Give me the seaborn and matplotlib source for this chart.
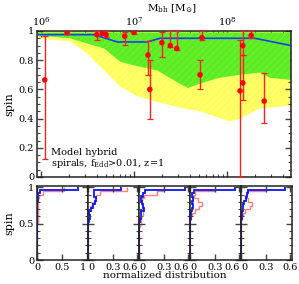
import numpy as np
import pandas as pd
import matplotlib
matplotlib.use("Agg")
import matplotlib.pyplot as plt
import seaborn as sns
from matplotlib.ticker import MultipleLocator, NullFormatter

plt.rcParams['font.family'] = ['DejaVu Serif']
plt.rcParams['mathtext.fontset'] = 'dejavuserif'
plt.rcParams['hatch.linewidth'] = 0.5

# model bands (log10 Mbh vs spin)
yellow_logm = [5.957, 6.31, 6.49, 6.68, 6.85, 7.03, 7.22, 7.49, 7.71, 8.03, 8.14, 8.35, 8.69]
yellow_low = [0.95, 0.93, 0.85, 0.73, 0.62, 0.555, 0.52, 0.475, 0.45, 0.38, 0.40, 0.47, 0.49]
green_logm = [5.957, 6.31, 6.68, 6.85, 7.03, 7.25, 7.49, 7.58, 7.71, 7.92, 8.14, 8.35, 8.46, 8.69]
green_low = [0.97, 0.95, 0.88, 0.79, 0.76, 0.73, 0.64, 0.61, 0.64, 0.68, 0.70, 0.715, 0.68, 0.665]
median_logm = [5.957, 6.57, 6.82, 7.14, 7.28, 8.30, 8.69]
median_spin = [0.975, 0.975, 0.925, 0.925, 0.95, 0.95, 0.90]

# observed spins
obs_logm = [6.04, 6.28, 6.60, 6.66, 6.70, 6.90, 7.00, 7.15, 7.17, 7.30, 7.39, 7.46, 7.71, 7.73, 8.14, 8.17, 8.17, 8.26, 8.40]
obs_spin = [0.665, 0.99, 0.975, 0.985, 0.975, 0.965, 0.99, 0.835, 0.60, 0.92, 0.90, 0.88, 0.70, 0.955, 0.59, 0.90, 0.645, 0.97, 0.52]
obs_lo = [0.12, 0.98, 0.935, 0.97, 0.96, 0.905, 0.98, 0.70, 0.40, 0.82, 0.89, 0.87, 0.60, 0.94, 0.0, 0.835, 0.53, 0.95, 0.37]
obs_hi = [0.965, 1.0, 1.0, 1.0, 1.0, 0.995, 1.0, 0.93, 0.80, 0.99, 1.0, 1.0, 0.80, 1.0, 0.94, 1.0, 0.835, 1.0, 0.71]

# spin distributions in 5 mass bins, listed from spin=1 downwards
# blue: top bin 0.97-1, then 0.05 wide; red: 0.05 wide bins
blue_hist = [
    [0.82, 0.06, 0.03, 0.015, 0.01, 0.01, 0.01, 0.01, 0.01, 0.01, 0.005, 0.005, 0.005, 0.005, 0.003, 0.003, 0.002, 0.002, 0.001, 0.001],
    [0.40, 0.07, 0.07, 0.10, 0.08, 0.057, 0.04, 0.016, 0.03, 0.01, 0.005, 0.003, 0.002, 0.001, 0, 0, 0, 0, 0, 0],
    [0.56, 0.073, 0.05, 0.03, 0.04, 0.05, 0.065, 0.03, 0.02, 0.01, 0.005, 0.003, 0.002, 0.001, 0, 0, 0, 0, 0, 0],
    [0.55, 0.05, 0.03, 0.04, 0.02, 0.04, 0.03, 0.012, 0.01, 0.005, 0.003, 0.002, 0.001, 0, 0, 0, 0, 0, 0, 0],
    [0.54, 0.09, 0.07, 0.06, 0.04, 0.02, 0.03, 0.015, 0.01, 0.005, 0.003, 0.002, 0.001, 0, 0, 0, 0, 0, 0, 0],
]
red_hist = [
    [0.55, 0.12, 0.04, 0.03, 0.03, 0.025, 0.02, 0.02, 0.02, 0.015, 0.01, 0.005, 0.003, 0.002, 0.001, 0, 0, 0, 0, 0],
    [0.48, 0.15, 0.10, 0.08, 0.05, 0.03, 0.015, 0.01, 0.005, 0.003, 0.002, 0.001, 0, 0, 0, 0, 0, 0, 0, 0],
    [0.30, 0.22, 0.06, 0.04, 0.04, 0.05, 0.05, 0.05, 0.03, 0.02, 0.01, 0.005, 0.002, 0, 0, 0, 0, 0, 0, 0],
    [0.30, 0.06, 0.05, 0.10, 0.14, 0.11, 0.06, 0.03, 0.01, 0.005, 0.002, 0, 0, 0, 0, 0, 0, 0, 0, 0],
    [0.30, 0.07, 0.05, 0.09, 0.13, 0.11, 0.05, 0.02, 0.01, 0.005, 0.002, 0, 0, 0, 0, 0, 0, 0, 0, 0],
]
red_edges = np.linspace(0, 1, 21)
blue_edges = np.r_[0, np.arange(0.07, 0.98, 0.05), 1.0]
panel_xmax = [1.03, 0.62, 0.62, 0.62, 0.62]
panel_xticks = [[0, 0.5, 1], [0, 0.3, 0.6], [0, 0.3, 0.6], [0, 0.3, 0.6], [0, 0.3, 0.6]]
panel_xlabels = [["0", "0.5", "1"], ["0", "0.3", "0.6"], ["0", "0.3", "0.6"], ["0", "0.3", "0.6"], ["0", "0.3", "0.6"]]

W, H = 299, 284
fig = plt.figure(figsize=(W / 100, H / 100), dpi=100)

def style_axis(ax):
    for s in ax.spines.values():
        s.set_linewidth(1.1)
        s.set_color("#222222")
    ax.tick_params(which="both", direction="in", top=True, right=True, labelsize=7, pad=2, color="#444444")
    ax.tick_params(which="major", length=4, width=1.0)
    ax.tick_params(which="minor", length=2, width=0.8)

ax = fig.add_axes([37 / W, 1 - 177 / H, 254 / W, 146 / H])
ax.set_xscale("log")
ax.fill_between(10 ** np.array(yellow_logm), yellow_low, 1.0, facecolor="#ffff5c", lw=0,
                hatch="/////", edgecolor="#ffff99", zorder=1)
ax.fill_between(10 ** np.array(green_logm), green_low, 0.99, facecolor="#5cec22", lw=0,
                hatch="/////", edgecolor="#7cf248", zorder=2)
sns.lineplot(x=10 ** np.array(median_logm), y=median_spin, color="#1f3cf0", lw=1.2, ax=ax, zorder=3)
obs = pd.DataFrame({"m": 10 ** np.array(obs_logm), "spin": obs_spin, "lo": obs_lo, "hi": obs_hi})
ax.errorbar(obs["m"], obs["spin"], yerr=[obs["spin"] - obs["lo"], obs["hi"] - obs["spin"]],
            fmt="none", ecolor="#ff2020", elinewidth=1.0, capsize=2, capthick=0.9, zorder=4)
sns.scatterplot(data=obs, x="m", y="spin", color="red", s=16, edgecolor="none", ax=ax, zorder=5)
ax.set_xlim(10 ** 5.957, 10 ** 8.688)
ax.set_ylim(0, 1.0)
ax.set_yticks([0, 0.2, 0.4, 0.6, 0.8, 1.0], ["0", "0.2", "0.4", "0.6", "0.8", "1"])
ax.yaxis.set_minor_locator(MultipleLocator(0.05))
style_axis(ax)
ax.tick_params(axis="x", which="both", labelbottom=False, labeltop=True)
ax.set_xticks([1e6, 1e7, 1e8], ["$10^6$", "$10^7$", "$10^8$"])
ax.set_xlabel("")
ax.set_ylabel("spin", fontsize=8, labelpad=3)
ax.text(1e6 * 10 ** 0.11, 0.17, "Model hybrid", fontsize=7, va="center", ha="left")
ax.text(1e6 * 10 ** 0.11, 0.095, r"spirals, f$_{\rm Edd}$>0.01, z=1", fontsize=7, va="center", ha="left")
fig.text(172 / W, 1 - 9 / H, r"M$_{\rm bh}$ [M$_{\odot}$]", fontsize=7.5, ha="center", va="center")

for i in range(5):
    hx = fig.add_axes([(37 + 51 * i) / W, 1 - 260 / H, 51 / W, 74 / H])
    hx.stairs(np.array(red_hist[i])[::-1], red_edges, orientation="horizontal", baseline=None,
              color="#ff7f7f", lw=1.0)
    hx.stairs(np.array(blue_hist[i])[::-1], blue_edges, orientation="horizontal", baseline=None,
              color="#0a14ff", lw=1.3)
    hx.set_xlim(0, panel_xmax[i])
    hx.set_ylim(0, 1.02)
    hx.set_xticks(panel_xticks[i], panel_xlabels[i])
    hx.yaxis.set_major_locator(MultipleLocator(0.5))
    hx.yaxis.set_minor_locator(MultipleLocator(0.1))
    style_axis(hx)
    labels = hx.get_xticklabels()
    if i > 0:
        labels[0].set_horizontalalignment("left")
    if i < 4:
        labels[-1].set_horizontalalignment("right")
    if i == 0:
        hx.set_yticks([0, 0.5, 1.0], ["0", "0.5", "1"])
        hx.set_ylabel("spin", fontsize=8, labelpad=3)
    else:
        hx.yaxis.set_major_formatter(NullFormatter())

fig.text(165 / W, 1 - 276 / H, "normalized distribution", fontsize=7.5, ha="center", va="center")

fig.savefig("out.png", dpi=100)
